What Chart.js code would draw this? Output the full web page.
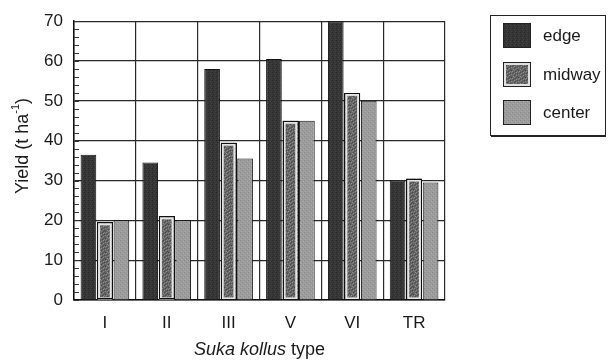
<!DOCTYPE html>
<html>
<head>
<meta charset="utf-8">
<script src="https://cdn.jsdelivr.net/npm/chart.js@4"></script>
<style>
html,body{margin:0;padding:0;background:#fff;}
#wrap{width:608px;height:361px;position:relative;}
</style>
</head>
<body>
<div id="wrap"><canvas id="c" width="608" height="361"></canvas></div>
<script>
// ---- data ----
const categories = ['I', 'II', 'III', 'V', 'VI', 'TR'];
const seriesNames = ['edge', 'midway', 'center'];
const edgeYield = [36.5, 34.5, 58, 60.5, 70, 30];
const midwayYield = [19.5, 21, 39.5, 45, 52, 30.5];
const centerYield = [20, 20, 35.5, 45, 50, 29.5];
const yTicks = [0, 10, 20, 30, 40, 50, 60, 70];

// ---- texture patterns (style only) ----
function makePattern(size, base, spots) {
  const c = document.createElement('canvas');
  c.width = size; c.height = size;
  const g = c.getContext('2d');
  g.fillStyle = base; g.fillRect(0, 0, size, size);
  spots.forEach(s => { g.fillStyle = s[2]; g.fillRect(s[0], s[1], 1, 1); });
  return g.createPattern(c, 'repeat');
}
const edgeFill = makePattern(4, '#363636', [[0,0,'#282828'],[2,1,'#444'],[1,2,'#2c2c2c'],[3,3,'#414141']]);
const midFill = makePattern(7, '#646464', [
  [0,0,'#474747'],[3,0,'#858585'],[5,0,'#505050'],
  [1,1,'#8e8e8e'],[4,1,'#4a4a4a'],[6,1,'#7c7c7c'],
  [2,2,'#4c4c4c'],[5,2,'#909090'],[0,2,'#7a7a7a'],
  [1,3,'#555'],[3,3,'#8a8a8a'],[6,3,'#474747'],
  [0,4,'#888'],[4,4,'#525252'],[2,4,'#7d7d7d'],
  [3,5,'#4a4a4a'],[5,5,'#8c8c8c'],[1,5,'#6f6f6f'],
  [2,6,'#909090'],[4,6,'#767676'],[6,6,'#4e4e4e']]);
const centerFill = makePattern(4, '#9c9c9c', [[0,0,'#8a8a8a'],[2,2,'#8a8a8a'],[1,3,'#acacac'],[3,1,'#acacac']]);
const fills = [edgeFill, midFill, centerFill];

const FONT = "'Liberation Sans', Arial, Helvetica, sans-serif";
const TXT = '#1a1a1a';

const decorPlugin = {
  id: 'decor',
  beforeDatasetsDraw(chart) {
    const ys = chart.scales.y, ca = chart.chartArea, c = chart.ctx;
    c.save();
    c.strokeStyle = '#333'; c.lineWidth = 1;
    for (let v = 0; v <= 70; v += 2) {
      const py = Math.round(ys.getPixelForValue(v)) + 0.5;
      c.beginPath(); c.moveTo(ca.left, py); c.lineTo(ca.left + 5, py); c.stroke();
    }
    c.restore();
  },
  afterDatasetsDraw(chart) {
    const c = chart.ctx;
    const meta = chart.getDatasetMeta(1);
    c.save();
    meta.data.forEach(el => {
      const p = el.getProps(['x', 'y', 'base', 'width'], true);
      const l = p.x - p.width / 2, t = p.y, h = p.base - p.y;
      c.strokeStyle = '#e4e4e4'; c.lineWidth = 2;
      c.strokeRect(l + 2, t + 2, p.width - 4, h - 3);
      c.strokeStyle = '#111'; c.lineWidth = 1;
      c.strokeRect(Math.round(l) + 0.5, Math.round(t) + 0.5, Math.round(p.width) - 1, Math.round(h) - 1);
    });
    c.restore();
  },
  afterDraw(chart) {
    const c = chart.ctx, ca = chart.chartArea;
    c.save();
    c.fillStyle = TXT;
    c.textBaseline = 'middle';
    const it = 'Suka kollus', rest = ' type';
    c.font = 'italic 18px ' + FONT;
    const w1 = c.measureText(it).width;
    c.font = '18px ' + FONT;
    const w2 = c.measureText(rest).width;
    let x0 = (ca.left + ca.right) / 2 - (w1 + w2) / 2;
    c.textAlign = 'left';
    c.font = 'italic 18px ' + FONT; c.fillText(it, x0, 350);
    c.font = '18px ' + FONT; c.fillText(rest, x0 + w1, 350);
    // y axis title with superscript
    c.translate(23, 146);
    c.rotate(-Math.PI / 2);
    const a = 'Yield (t ha', sup = '-1', b = ')';
    c.font = '18px ' + FONT; const wa = c.measureText(a).width, wb = c.measureText(b).width;
    c.font = '11px ' + FONT; const ws = c.measureText(sup).width;
    let sx = -(wa + ws + wb) / 2;
    c.font = '18px ' + FONT; c.fillText(a, sx, 0);
    c.font = '11px ' + FONT; c.fillText(sup, sx + wa, -7);
    c.font = '18px ' + FONT; c.fillText(b, sx + wa + ws, 0);
    c.setTransform(1, 0, 0, 1, 0, 0);
    // legend
    c.strokeStyle = '#222'; c.lineWidth = 1;
    c.strokeRect(490.5, 15.5, 115, 120);
    c.beginPath(); c.moveTo(491, 136.5); c.lineTo(606, 136.5); c.stroke();
    const tops = [23, 62, 100];
    chart.data.datasets.forEach((ds, i) => {
      c.fillStyle = ds.backgroundColor;
      c.fillRect(503, tops[i], 28, 25);
      if (i === 1) { c.strokeStyle = '#e0e0e0'; c.lineWidth = 2; c.strokeRect(505, tops[i] + 2, 24, 21); }
      c.strokeStyle = '#222'; c.lineWidth = 1;
      c.strokeRect(503.5, tops[i] + 0.5, 27, 24);
      c.fillStyle = TXT;
      c.font = '17px ' + FONT;
      c.textAlign = 'left';
      c.fillText(ds.label, 543, tops[i] + 13);
    });
    c.restore();
  }
};

new Chart(document.getElementById('c'), {
  type: 'bar',
  data: {
    labels: categories,
    datasets: [
      { label: seriesNames[0], data: edgeYield, backgroundColor: fills[0], borderColor: '#111', borderWidth: 1 },
      { label: seriesNames[1], data: midwayYield, backgroundColor: fills[1], borderColor: '#111', borderWidth: 0 },
      { label: seriesNames[2], data: centerYield, backgroundColor: fills[2], borderColor: '#111', borderWidth: 1 }
    ]
  },
  options: {
    responsive: false,
    animation: false,
    events: [],
    layout: { padding: { top: 18, right: 163, left: 0, bottom: 0 } },
    datasets: { bar: { categoryPercentage: 0.8, barPercentage: 0.95 } },
    plugins: { legend: { display: false }, tooltip: { enabled: false }, title: { display: false } },
    scales: {
      x: {
        grid: { color: '#2a2a2a', lineWidth: 1.2, offset: true, drawTicks: false },
        border: { color: '#111', width: 1.5 },
        ticks: { color: TXT, font: { family: FONT, size: 17 }, padding: 13 },
        afterFit(s) { s.height = 61; }
      },
      y: {
        min: 0, max: 70,
        afterBuildTicks(s) { s.ticks = yTicks.map(v => ({ value: v })); },
        grid: { color: '#2a2a2a', lineWidth: 1.2, drawTicks: false },
        border: { color: '#111', width: 1.5 },
        ticks: { color: TXT, font: { family: FONT, size: 17 }, padding: 11 },
        afterFit(s) { s.width = 74; }
      }
    }
  },
  plugins: [decorPlugin]
});
</script>
</body>
</html>
